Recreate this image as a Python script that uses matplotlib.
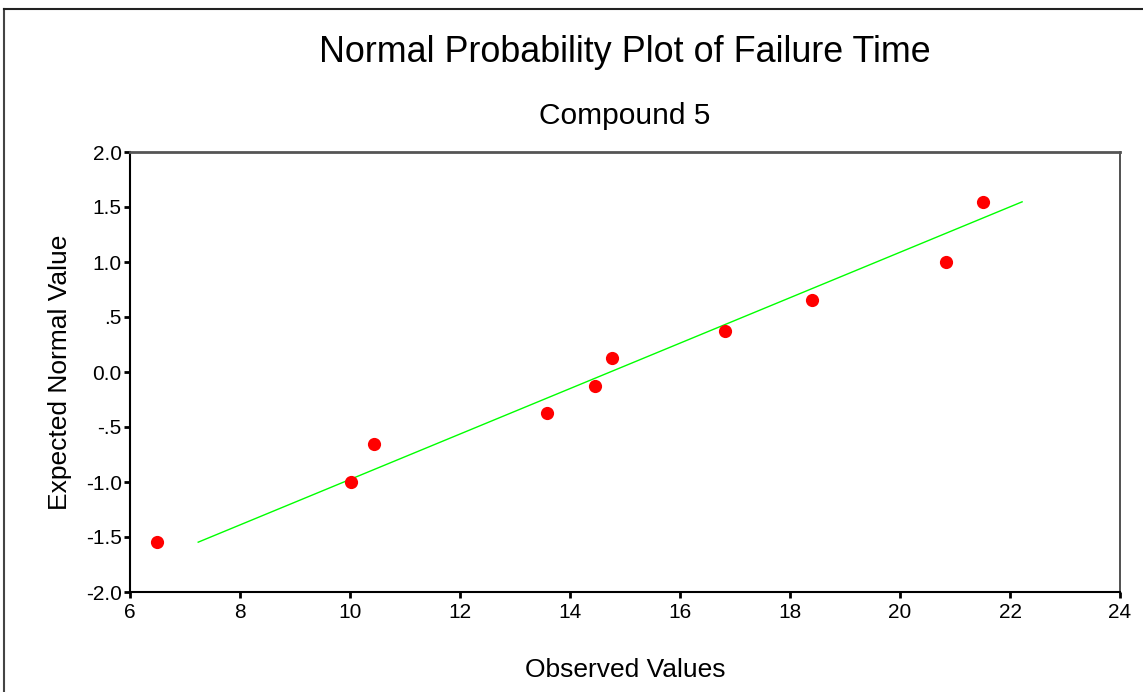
import matplotlib
matplotlib.use("Agg")
import matplotlib.pyplot as plt
from matplotlib.lines import Line2D

plt.rcParams['font.family'] = ['Liberation Sans', 'DejaVu Sans']

# valores observados y valores normales esperados
observados = [6.49, 10.02, 10.43, 13.58, 14.46, 14.76, 16.82, 18.40, 20.84, 21.51]
esperados = [-1.547, -1.000, -0.655, -0.375, -0.123, 0.123, 0.375, 0.655, 1.000, 1.547]

# extremos de la recta de referencia
recta_x = [7.24, 22.22]
recta_y = [-1.547, 1.547]

xticks = [6, 8, 10, 12, 14, 16, 18, 20, 22, 24]
yticks = [2.0, 1.5, 1.0, 0.5, 0.0, -0.5, -1.0, -1.5, -2.0]
yetiquetas = ["2.0", "1.5", "1.0", ".5", "0.0", "-.5", "-1.0", "-1.5", "-2.0"]

W, H = 1143, 692
fig = plt.figure(figsize=(W / 100, H / 100), dpi=100)
ax = fig.add_axes([130 / W, 1 - 592 / H, (1120 - 130) / W, (592 - 152) / H])

ax.plot(recta_x, recta_y, color="#00ff00", linewidth=1.0, zorder=2)
ax.plot(observados, esperados, linestyle="none", marker="o", markersize=9.5,
        color="red", markeredgewidth=0, zorder=3)

ax.set_xlim(6, 24)
ax.set_ylim(-2, 2)
ax.set_xticks(xticks)
ax.set_yticks(yticks)
ax.set_yticklabels(yetiquetas)
ax.tick_params(axis="both", labelsize=15, length=4, width=2, color="black")
ax.tick_params(axis="x", pad=4)
ax.tick_params(axis="y", pad=2)

for lado in ["left", "bottom"]:
    ax.spines[lado].set_color("black")
    ax.spines[lado].set_linewidth(1.5)
ax.spines["top"].set_color("#555555")
ax.spines["top"].set_linewidth(2)
ax.spines["right"].set_color("#333333")
ax.spines["right"].set_linewidth(1.2)

ax.set_ylabel("Expected Normal Value", fontsize=19, labelpad=10)
fig.text(625 / W, 1 - 670 / H, "Observed Values", fontsize=19, ha="center", va="center")

fig.text(625 / W, 1 - 52 / H, "Normal Probability Plot of Failure Time",
         fontsize=25.8, ha="center", va="center")
fig.text(625 / W, 1 - 116 / H, "Compound 5", fontsize=21.5, ha="center", va="center")

# marco exterior (solo arriba e izquierda visibles)
fig.add_artist(Line2D([3.5 / W, 3.5 / W], [0, 1 - 9 / H], color="#444444", linewidth=1.5))
fig.add_artist(Line2D([3.5 / W, 1], [1 - 9 / H, 1 - 9 / H], color="#222222", linewidth=1.5))

fig.savefig("out.png", dpi=100)
